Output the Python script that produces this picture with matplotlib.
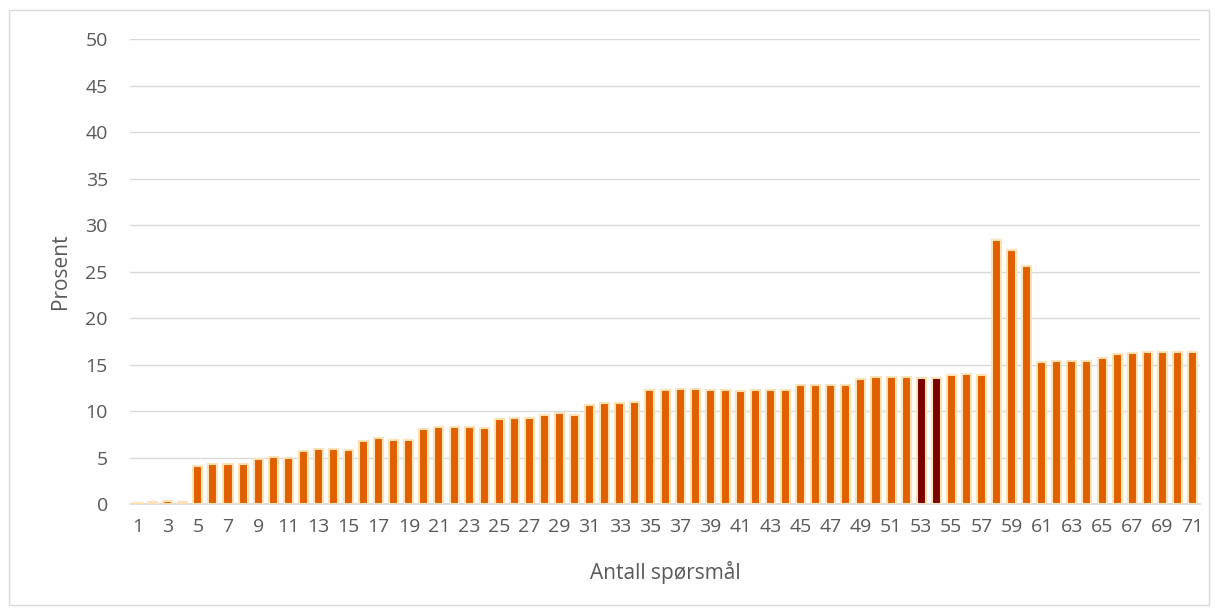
import matplotlib.pyplot as plt
import numpy as np

# Andel (prosent) per antall spørsmål
questions = list(range(1, 72))
percent = [
    0.1, 0.2, 0.35, 0.25, 4.1, 4.3, 4.35, 4.35, 4.85, 5.05,
    4.9, 5.7, 5.95, 5.95, 5.85, 6.8, 7.05, 6.9, 6.9, 8.1,
    8.3, 8.3, 8.25, 8.15, 9.1, 9.25, 9.2, 9.6, 9.8, 9.6,
    10.7, 10.9, 10.9, 10.95, 12.25, 12.3, 12.35, 12.4, 12.25, 12.3,
    12.2, 12.25, 12.25, 12.3, 12.75, 12.85, 12.8, 12.8, 13.5, 13.65,
    13.65, 13.65, 13.55, 13.55, 13.9, 14.0, 13.9, 28.4, 27.3, 25.6,
    15.3, 15.4, 15.4, 15.4, 15.7, 16.15, 16.25, 16.35, 16.35, 16.35,
    16.35,
]
highlight = [53, 54]

plt.rcParams['font.family'] = ['Open Sans', 'DejaVu Sans']
text_col = '#595959'

fig = plt.figure(figsize=(12.2, 6.15), dpi=100)
ax = fig.add_axes([0.1066, 0.1805, 0.877, 0.7556])

colors = ['#7B0000' if q in highlight else '#E06000' for q in questions]
ax.bar(questions, percent, width=0.6, color=colors, edgecolor='#FFE2B4',
       linewidth=1.5, zorder=3)

ax.set_xlim(0.5, 71.5)
ax.set_ylim(0, 50)
ax.set_yticks(np.arange(0, 51, 5))
ax.set_xticks(questions[::2])
ax.grid(True, axis='y', color='#D9D9D9', linewidth=1, zorder=0)
for s in ['top', 'right', 'left']:
    ax.spines[s].set_visible(False)
ax.spines['bottom'].set_color('#D9D9D9')
ax.spines['bottom'].set_linewidth(1.2)
ax.tick_params(length=0, labelsize=14, colors=text_col, pad=10)
ax.tick_params(axis='y', pad=16)

ax.set_xlabel('Antall spørsmål', fontsize=15, color=text_col, labelpad=18)
ax.set_ylabel('Prosent', fontsize=15, color=text_col, labelpad=10)

# ramme rundt diagrammet
fig.patches.append(plt.Rectangle((9 / 1220, 10 / 615), 1200 / 1220, 595 / 615,
                                 transform=fig.transFigure, fill=False,
                                 edgecolor='#D9D9D9', linewidth=1))

fig.savefig('out.png', dpi=100)
